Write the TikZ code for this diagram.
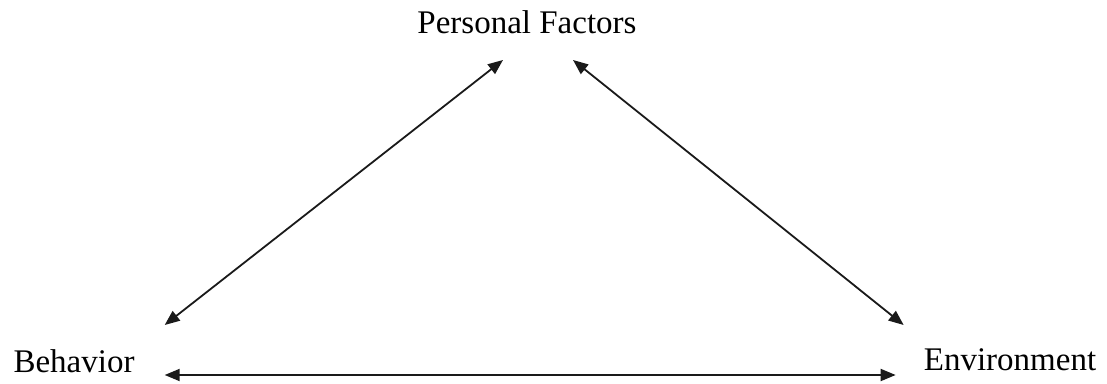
\documentclass[tikz,border=0pt]{standalone}
\usepackage{fontspec}
\setmainfont{Liberation Serif}
\usepackage{tikz}
\usetikzlibrary{arrows.meta, positioning}
\definecolor{LineBlack}{HTML}{1A1A1A}

\begin{document}
\begin{tikzpicture}[
  x=1pt, y=1pt,
  every node/.style = {font=\fontsize{33}{40}\selectfont, inner sep=0pt},
  factor/.style = {anchor=base, text=black},
  arr/.style = {{Triangle[length=15pt,width=12pt]}-{Triangle[length=15pt,width=12pt]},
                line width=1.8pt, color=LineBlack},
]
\useasboundingbox (0,0) rectangle (1107,383);

% Factor nodes
\node[factor] (pf)  at (527,349) {Personal Factors};
\node[factor] (beh) at (74,11)   {Behavior};
\node[factor] (env) at (1010,13) {Environment};

% Arrows
\draw[arr] ([shift={(30,47)}]beh.base east) -- ([shift={(-24,-26)}]pf.base);
\draw[arr] ([shift={(46,-26)}]pf.base) -- ([shift={(-20,45)}]env.base west);
\draw[arr] ([shift={(30,-3)}]beh.base east) -- ([shift={(-28,-5)}]env.base west);

\end{tikzpicture}
\end{document}
